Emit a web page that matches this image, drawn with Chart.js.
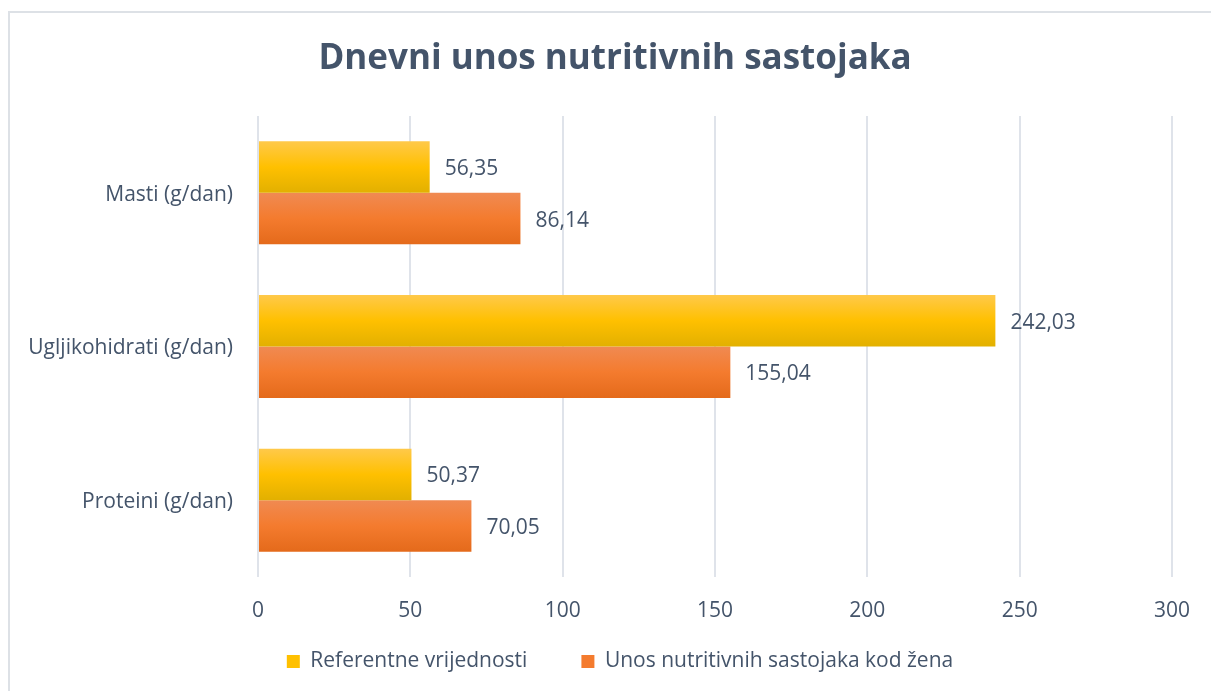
<!DOCTYPE html>
<html>
<head>
<meta charset="utf-8">
<script src="https://cdn.jsdelivr.net/npm/chart.js@4/dist/chart.umd.min.js"></script>
<style>
  html, body { margin: 0; padding: 0; background: #fff; }
  #wrap { position: relative; width: 1211px; height: 691px; overflow: hidden; }
  #frame { position: absolute; left: 8px; top: 11px; width: 1300px; height: 800px;
           border-left: 2px solid #dde1e6; border-top: 2px solid #dde1e6; pointer-events: none; }
</style>
</head>
<body>
<div id="wrap">
  <canvas id="nutriChart"></canvas>
  <div id="frame"></div>
</div>
<script>
// data
const categories = ['Masti (g/dan)', 'Ugljikohidrati (g/dan)', 'Proteini (g/dan)'];
const referentne = [56.35, 242.03, 50.37];
const unosZene = [86.14, 155.04, 70.05];
const seriesNames = ['Referentne vrijednosti', 'Unos nutritivnih sastojaka kod žena'];
const xTicks = [0, 50, 100, 150, 200, 250, 300];

const textColor = '#44546a';
const fontFamily = '"Open Sans", sans-serif';
const catPct = 0.67;

// top light -> mid -> bottom dark, like the Excel bar fill
const yellowStops = ['#ffc94a', '#ffc000', '#e2b000'];
const orangeStops = ['#f08a52', '#f47b2e', '#e46a1b'];

function barFill(stops) {
  return function (ctx) {
    const chart = ctx.chart;
    const area = chart.chartArea;
    if (!area || ctx.dataIndex === undefined) return stops[1];
    const band = (area.bottom - area.top) / categories.length;
    const thick = band * catPct / 2;
    const c = chart.scales.y.getPixelForValue(ctx.dataIndex);
    const top = ctx.datasetIndex === 0 ? c - thick : c;
    if (!isFinite(top)) return stops[1];
    const g = chart.ctx.createLinearGradient(0, top, 0, top + thick);
    g.addColorStop(0, stops[0]);
    g.addColorStop(0.5, stops[1]);
    g.addColorStop(1, stops[2]);
    return g;
  };
}

// value labels right of each bar
const valueLabels = {
  id: 'valueLabels',
  afterDatasetsDraw(chart) {
    const c = chart.ctx;
    c.save();
    c.font = '21px ' + fontFamily;
    c.fillStyle = textColor;
    c.textAlign = 'left';
    c.textBaseline = 'middle';
    chart.data.datasets.forEach((ds, i) => {
      chart.getDatasetMeta(i).data.forEach((bar, j) => {
        const txt = ds.data[j].toFixed(2).replace('.', ',');
        c.fillText(txt, bar.x + 15, bar.y + 2);
      });
    });
    c.restore();
  }
};

// legend box kept short, moved so the items sit at the right place;
// title centred on the whole frame, not on the padded area
const placeBlocks = {
  id: 'placeBlocks',
  beforeInit(chart) {
    const fit = chart.legend.fit;
    chart.legend.fit = function () {
      fit.bind(chart.legend)();
      this.height = 64;
    };
  },
  afterLayout(chart) {
    chart.legend.top = 597;
    chart.legend.bottom = 691;
    chart.legend.right = 1240;
    chart.titleBlock.left = 0;
    chart.titleBlock.right = 1230;
  }
};

new Chart(document.getElementById('nutriChart'), {
  type: 'bar',
  data: {
    labels: categories,
    datasets: [{
      label: seriesNames[0],
      data: referentne,
      backgroundColor: barFill(yellowStops),
      categoryPercentage: catPct,
      barPercentage: 1
    }, {
      label: seriesNames[1],
      data: unosZene,
      backgroundColor: barFill(orangeStops),
      categoryPercentage: catPct,
      barPercentage: 1
    }]
  },
  options: {
    indexAxis: 'y',
    responsive: true,
    maintainAspectRatio: false,
    animation: false,
    layout: { padding: { left: 0, right: 39, top: 0, bottom: 0 } },
    plugins: {
      title: {
        display: true,
        text: 'Dnevni unos nutritivnih sastojaka',
        color: textColor,
        font: { family: fontFamily, size: 35, weight: 'bold' },
        padding: { top: 38, bottom: 36 }
      },
      legend: {
        position: 'bottom',
        labels: {
          color: textColor,
          font: { family: fontFamily, size: 21 },
          boxWidth: 13,
          boxHeight: 13,
          padding: 54,
          generateLabels(chart) {
            return chart.data.datasets.map((ds, i) => ({
              text: ds.label,
              fillStyle: i === 0 ? yellowStops[1] : orangeStops[1],
              strokeStyle: 'rgba(0,0,0,0)',
              lineWidth: 0,
              fontColor: textColor,
              datasetIndex: i
            }));
          }
        }
      },
      tooltip: { enabled: false }
    },
    scales: {
      x: {
        min: 0,
        max: 300,
        afterBuildTicks(scale) { scale.ticks = xTicks.map(v => ({ value: v })); },
        afterFit(scale) { scale.height = 50; },
        grid: { color: '#dfe3ea', lineWidth: 2, drawTicks: false },
        border: { display: false },
        ticks: { color: textColor, font: { family: fontFamily, size: 21 }, padding: 21 }
      },
      y: {
        afterFit(scale) { scale.width = 258; },
        grid: { display: false },
        border: { display: false },
        ticks: { color: textColor, font: { family: fontFamily, size: 21 }, padding: 17, labelOffset: 2 }
      }
    }
  },
  plugins: [valueLabels, placeBlocks]
});
</script>
</body>
</html>
